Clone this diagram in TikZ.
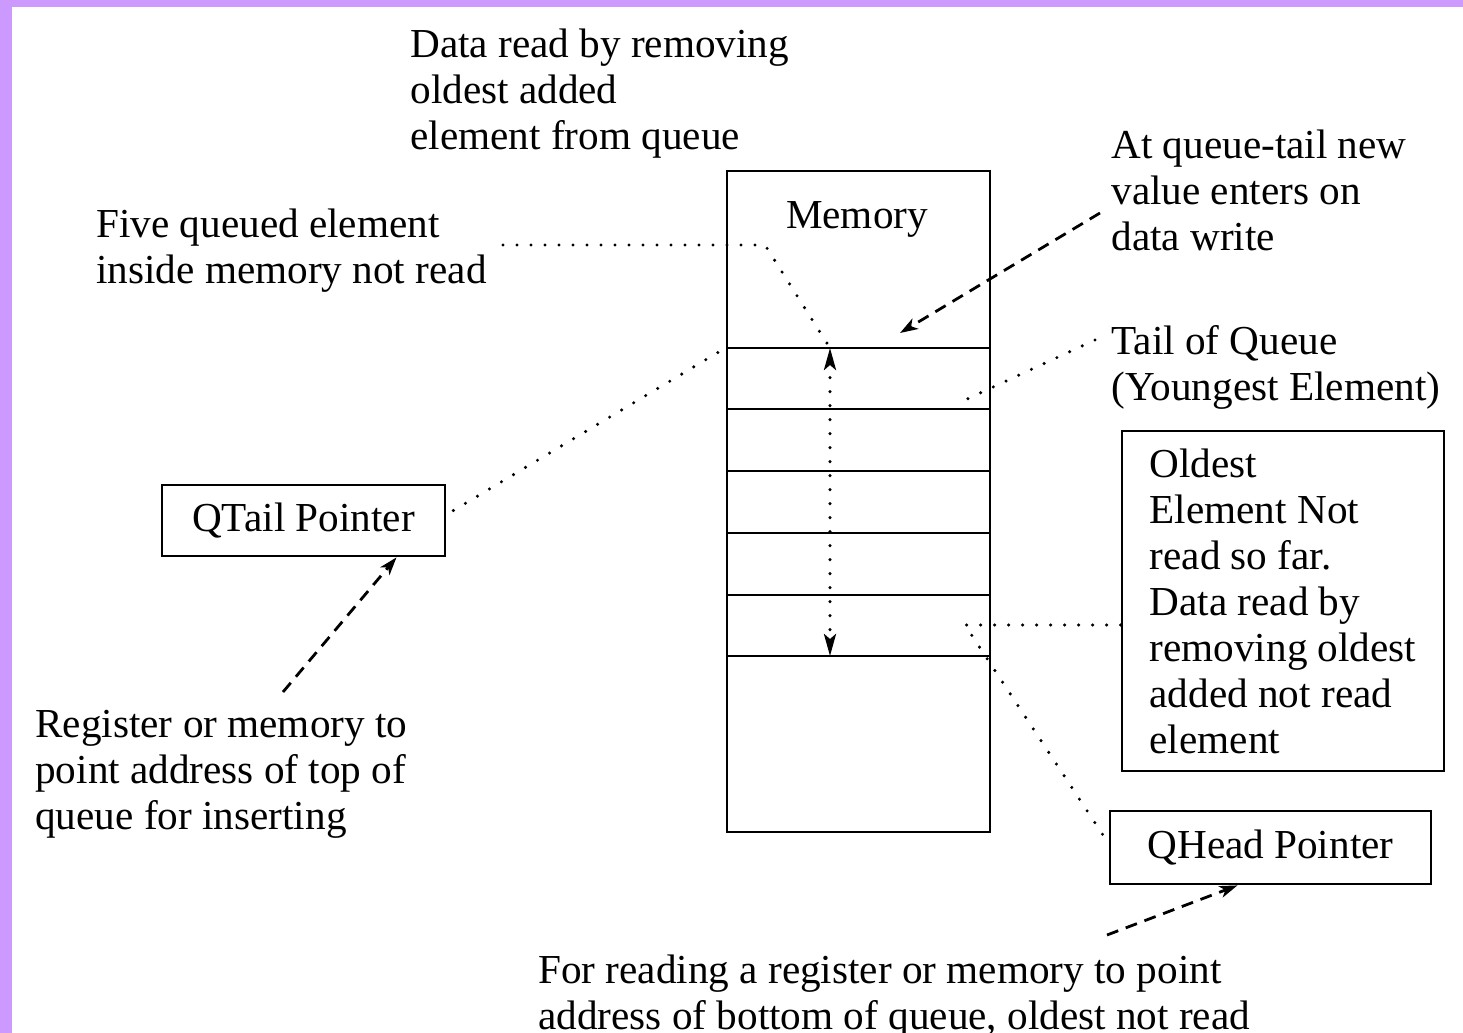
\documentclass[tikz,border=0pt]{standalone}
\usepackage{fontspec}
\setmainfont{Liberation Serif}
\usetikzlibrary{positioning,arrows.meta}
\definecolor{framepurple}{RGB}{204,153,255}

\begin{document}
\begin{tikzpicture}[
    x=0.5pt, y=-0.5pt,
    every node/.style={font=\fontsize{20.6}{23}\selectfont},
    note/.style={anchor=base west, align=left, inner sep=0pt},
    box/.style={draw, line width=1.4pt, inner sep=0pt},
    dotline/.style={draw, line width=1.7pt, dash pattern=on 0pt off 7pt, line cap=round,
        >={Stealth[length=11pt,width=6pt,inset=2.5pt]}},
    ptr/.style={draw, ->, line width=1.4pt, dash pattern=on 6pt off 4pt,
        >={Stealth[length=9pt,width=6pt,inset=2.5pt]}}
]
% Frame
\useasboundingbox (0,0) rectangle (1463,1033);
\fill[framepurple] (0,0) rectangle (1463,1033);
\fill[white] (12,7) rectangle (1463,1033);

% Memory with five queued cells
\node[box, minimum width=131.5pt, minimum height=330.5pt] (mem) at (858.5,501.5) {};
\node[anchor=base] (memlbl) at (857,228) {Memory};
\foreach \y in {348,409,471,533,595,656}
    \draw[line width=1.4pt] (727,\y) -- (990,\y);

% Pointer registers
\node[box, minimum width=141.5pt, minimum height=35.5pt] (qtail) at (303.5,520.5) {QTail Pointer};
\node[box, minimum width=160.5pt, minimum height=36.5pt] (qhead) at (1270.5,847.5) {QHead Pointer};
\node[box, align=left, minimum width=161pt, minimum height=170pt] (oldest) at (1283,601)
    {Oldest\\Element Not\\read so far.\\Data read by\\removing oldest\\added not read\\element};

% Notes (placed at the baseline of their last line)
\node[note] (readtxt) at (410,149) {Data read by removing\\oldest added\\element from queue};
\node[note] (fivetxt) at (96,283) {Five queued element\\inside memory not read};
\node[note] (writetxt) at (1111,250) {At queue-tail new\\value enters on\\data write};
\node[note] (tailtxt) at (1111,400) {Tail of Queue\\(Youngest Element)};
\node[note] (insttxt) at (35,829) {Register or memory to\\point address of top of\\queue for inserting};
\node[note] (headtxt) at (538,1029) {For reading a register or memory to point\\address of bottom of queue, oldest not read};

% Free ends
\coordinate (f1) at (503,245);
\coordinate (f2) at (765,245);
\coordinate (top) at (830,348);
\coordinate (bot) at (830,656);
\coordinate (w1) at (1100,213);
\coordinate (w2) at (900,333);
\coordinate (t1) at (1095,340);
\coordinate (t2) at (965,400);
\coordinate (o1) at (965,625);
\coordinate (h1) at (1103,835);
\coordinate (m1) at (722,350);
\coordinate (i1) at (283,692);
\coordinate (r1) at (1107,935);

% Connectors
\draw[dotline] (f1) -- (f2) -- (top);
\draw[dotline, <->] (top) -- (bot);
\draw[ptr] (w1) -- (w2);
\draw[dotline] (t1) -- (t2);
\draw[dotline] ([yshift=-12pt]oldest.west) -- (o1) -- (h1);
\draw[dotline] ([xshift=3.5pt,yshift=5pt]qtail.east) -- (m1);
\draw[ptr] (i1) -- ([xshift=46.5pt]qtail.south);
\draw[ptr] (r1) -- ([xshift=-16.5pt]qhead.south);
\end{tikzpicture}
\end{document}
